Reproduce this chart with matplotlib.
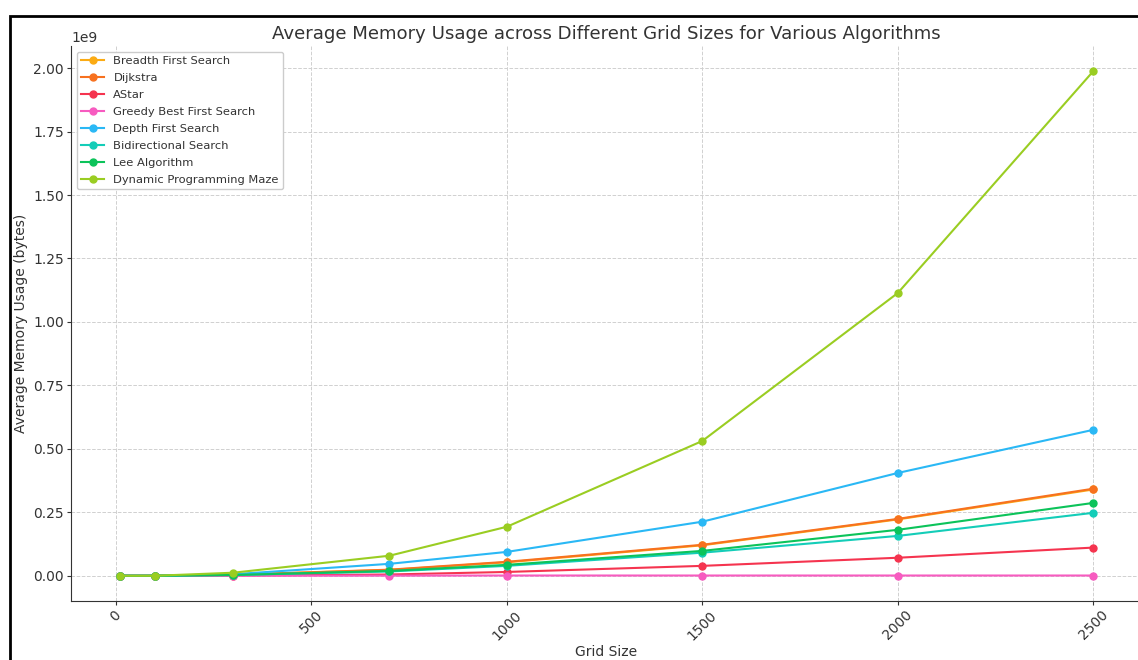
import matplotlib.pyplot as plt
from matplotlib.patches import Rectangle

# grid sizes tested
grid_sizes = [10, 100, 300, 700, 1000, 1500, 2000, 2500]

# average memory usage per algorithm (bytes)
bfs = [0.0, 0.0, 0.004e9, 0.023e9, 0.053e9, 0.120e9, 0.222e9, 0.340e9]
dijkstra = [0.0, 0.0, 0.004e9, 0.024e9, 0.055e9, 0.122e9, 0.224e9, 0.343e9]
astar = [0.0, 0.0, 0.001e9, 0.005e9, 0.015e9, 0.039e9, 0.071e9, 0.111e9]
greedy = [0.0, 0.0, 0.0, 0.0005e9, 0.001e9, 0.001e9, 0.001e9, 0.001e9]
dfs = [0.0, 0.0, 0.006e9, 0.047e9, 0.094e9, 0.213e9, 0.405e9, 0.575e9]
bidirectional = [0.0, 0.0, 0.003e9, 0.017e9, 0.039e9, 0.091e9, 0.157e9, 0.248e9]
lee = [0.0, 0.0, 0.003e9, 0.019e9, 0.043e9, 0.098e9, 0.181e9, 0.287e9]
dp_maze = [0.0, 0.0, 0.012e9, 0.079e9, 0.193e9, 0.531e9, 1.114e9, 1.988e9]

names = ['Breadth First Search', 'Dijkstra', 'AStar', 'Greedy Best First Search',
         'Depth First Search', 'Bidirectional Search', 'Lee Algorithm',
         'Dynamic Programming Maze']
series = [bfs, dijkstra, astar, greedy, dfs, bidirectional, lee, dp_maze]
colors = ['#fbab14', '#f7711f', '#f5344f', '#f75bc0', '#2ab8f5', '#14cdb8',
          '#0cc35a', '#9acd22']

fig = plt.figure(figsize=(11.38, 6.6), dpi=100)
ax = fig.add_axes([71 / 1138, 59 / 660, 1071 / 1138, 555 / 660])

for vals, name, col in zip(series, names, colors):
    ax.plot(grid_sizes, vals, marker='o', markersize=5, linewidth=1.5,
            color=col, label=name)

ax.set_xlim(-114.5, 2624.5)
ax.set_ylim(-0.0994e9, 2.087e9)

ax.grid(True, linestyle='--', color='#d0d0d0', linewidth=0.7)
ax.spines['top'].set_visible(False)
ax.spines['right'].set_visible(False)
for s in ['left', 'bottom']:
    ax.spines[s].set_color('#333333')

ax.tick_params(colors='#333333', labelsize=10, length=3, pad=2)
plt.setp(ax.get_xticklabels(), rotation=45)
ax.yaxis.get_offset_text().set_color('#333333')

ax.set_title('Average Memory Usage across Different Grid Sizes for Various Algorithms',
             fontsize=13.1, color='#333333', pad=5)
ax.set_xlabel('Grid Size', color='#333333', fontsize=10, labelpad=2)
ax.set_ylabel('Average Memory Usage (bytes)', color='#333333', fontsize=10,
              labelpad=4)

leg = ax.legend(loc='upper left', fontsize=8.25, framealpha=1, labelspacing=0.6)
for t in leg.get_texts():
    t.set_color('#333333')

# black frame of the original screenshot
fig.patches.append(Rectangle((10 / 1138, -0.1), 1.2, (660 - 16) / 660 + 0.1,
                             transform=fig.transFigure, fill=False,
                             edgecolor='black', linewidth=2))

plt.savefig('out.png', dpi=100)
